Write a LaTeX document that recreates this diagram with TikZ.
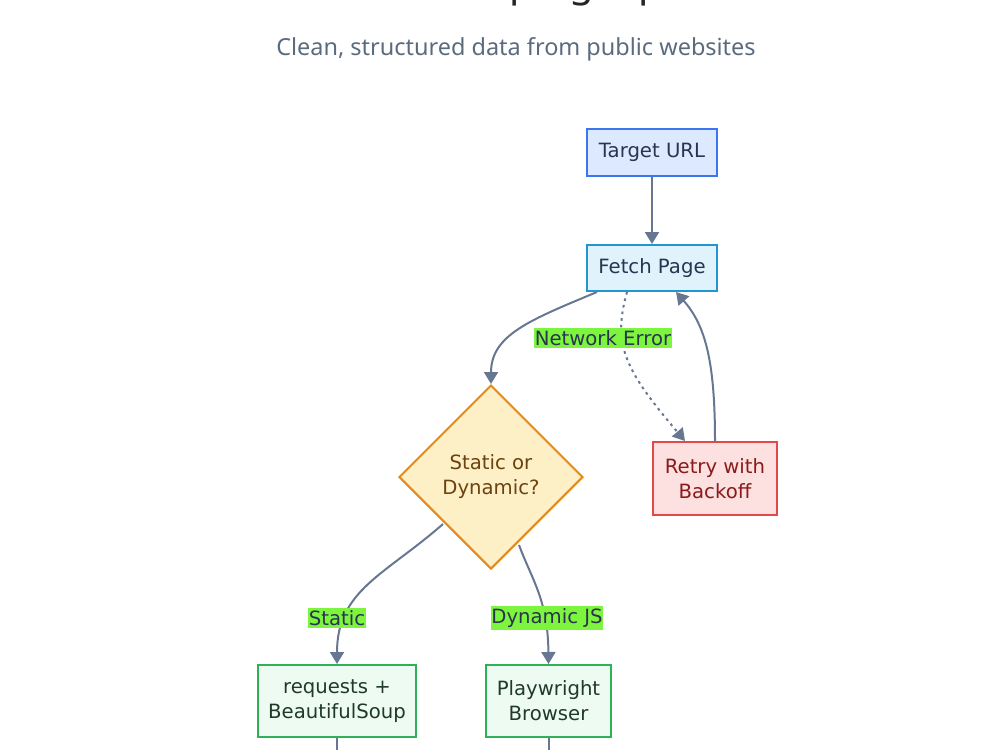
\documentclass[tikz,border=0pt]{standalone}
\usepackage{fontspec}
\setmainfont{Noto Sans}
\newfontfamily\nodefont{DejaVu Sans}
\usetikzlibrary{arrows.meta,shapes.geometric,calc}

\definecolor{edgecol}{HTML}{687791}
\definecolor{txtcol}{HTML}{2A3350}
\definecolor{subcol}{HTML}{5B6B7E}
\definecolor{urlfill}{HTML}{DDE9FE}
\definecolor{urldraw}{HTML}{3B76F0}
\definecolor{fetchfill}{HTML}{E0F2FC}
\definecolor{fetchdraw}{HTML}{2196D3}
\definecolor{decfill}{HTML}{FDEFC6}
\definecolor{decdraw}{HTML}{E08B1C}
\definecolor{dectext}{HTML}{6B4210}
\definecolor{retryfill}{HTML}{FDE0E0}
\definecolor{retrydraw}{HTML}{E24A4A}
\definecolor{retrytext}{HTML}{8B1A1A}
\definecolor{toolfill}{HTML}{EEFBF2}
\definecolor{tooldraw}{HTML}{2FB257}
\definecolor{tooltext}{HTML}{1F3A28}
\definecolor{lblfill}{HTML}{7DF53F}

\tikzset{
  box/.style={draw, line width=1.5pt, rectangle, align=center, inner sep=0pt,
    font=\nodefont\fontsize{14.75pt}{18.75pt}\selectfont, text=txtcol},
  urlbox/.style={box, fill=urlfill, draw=urldraw, minimum width=97.5pt, minimum height=35pt},
  fetchbox/.style={box, fill=fetchfill, draw=fetchdraw, minimum width=97.5pt, minimum height=34.5pt},
  retrybox/.style={box, fill=retryfill, draw=retrydraw, text=retrytext, minimum width=93pt, minimum height=54.75pt},
  toolbox/.style={box, fill=toolfill, draw=tooldraw, text=tooltext, minimum height=54pt},
  decision/.style={draw=decdraw, fill=decfill, line width=1.5pt, diamond, aspect=1,
    inner sep=0pt, minimum width=138pt, minimum height=138pt, align=center,
    font=\nodefont\fontsize{14.75pt}{18.75pt}\selectfont, text=dectext},
  flow/.style={draw=edgecol, line width=1.5pt, -{Triangle[length=9pt,width=10.5pt]}},
  dotflow/.style={flow, dash pattern=on 2pt off 3pt},
  elabel/.style={fill=lblfill, inner xsep=0.5pt, inner ysep=2pt,
    font=\nodefont\fontsize{14.75pt}{16pt}\selectfont, text=txtcol}
}

\begin{document}
\begin{tikzpicture}[x=0.75pt, y=-0.75pt]
  \useasboundingbox (0,0) rectangle (1000,750);
  \clip (0,0) rectangle (1000,750);

  % heading, its top lying beyond the upper edge
  \node[anchor=base, font=\bfseries\fontsize{30pt}{36pt}\selectfont, text=black!85]
    (title) at (545,-4) {Web Scraping Pipeline};
  \node[font=\fontsize{17.6pt}{21pt}\selectfont, text=subcol]
    (subtitle) at (516,49) {Clean, structured data from public websites};

  % steps
  \node[urlbox]   (url)    at (652,152.5) {Target URL};
  \node[fetchbox] (fetch)  at (652,268)   {Fetch Page};
  \node[decision] (choice) at (491,477)   {Static or\\Dynamic?};
  \node[retrybox] (retry)  at (715,478.5) {Retry with\\Backoff};
  \node[toolbox, minimum width=118.5pt] (soup) at (337,701) {requests +\\BeautifulSoup};
  \node[toolbox, minimum width=93.75pt] (pw)   at (548.5,701) {Playwright\\Browser};

  % connectors
  \draw[flow] (url) -- (fetch);

  \draw[flow] ($(fetch.south)+(-55,0)$) .. controls (530,320) and (491,335) .. (choice.north);

  \draw[dotflow] ($(fetch.south)+(-25,0)$) .. controls (612,345) and (625,370) .. ($(retry.north)+(-30,0)$);
  \node[elabel] (neterr) at (603,338) {Network Error};

  \draw[flow] (retry.north) .. controls (715,360) and (705,325) .. ($(fetch.south)+(24,0)$);

  \draw[flow] ($(choice.center)+(-48,47)$) .. controls (385,575) and (337,590) .. (soup.north);
  \node[elabel] (lstatic) at (337,618) {Static};

  \draw[flow] ($(choice.center)+(28,68)$) .. controls (532,580) and (548,600) .. (pw.north);
  \node[elabel] (ldyn) at (547,618) {Dynamic JS};

  % onward lines below the tool steps
  \coordinate (soupout) at (337,760);
  \coordinate (pwout) at (548.5,760);
  \draw[draw=edgecol, line width=1.5pt] (soup.south) -- (soupout);
  \draw[draw=edgecol, line width=1.5pt] (pw.south) -- (pwout);
\end{tikzpicture}
\end{document}
